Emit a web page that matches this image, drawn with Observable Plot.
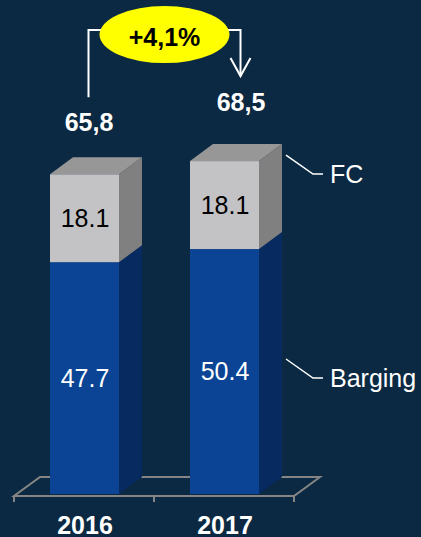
<!DOCTYPE html>
<html><head><meta charset="utf-8">
<script src="https://cdn.jsdelivr.net/npm/d3@7"></script>
<script src="https://cdn.jsdelivr.net/npm/@observablehq/plot@0.6"></script>
<style>html,body{margin:0;padding:0;background:#0b2942;} #chart{width:421px;height:537px;overflow:hidden}</style>
</head><body><div id="chart"></div>
<script>
const years = ["2016", "2017"];
const series = ["Barging", "FC"];
const barging = [47.7, 50.4];
const fc = [18.1, 18.1];
const totalLabels = ["65,8", "68,5"];
const growthLabel = "+4,1%";
const seriesColors = ["#0b4494", "#c3c3c5"];
const sideColors = ["#072a60", "#808080"];
const topColor = "#979797";
const FONT = "Liberation Sans, Arial, sans-serif";

const rows = [];
years.forEach((year, i) => {
  let base = 0;
  [barging[i], fc[i]].forEach((v, j) => {
    rows.push({year, series: series[j], value: v, y1: base, y2: base + v, label: v.toFixed(1)});
    base += v;
  });
});
const totals = years.map((year, i) => ({year, total: barging[i] + fc[i], label: totalLabels[i]}));
const DX = 23, DY = 17;

function floorMark(index, scales) {
  const {x, y} = scales;
  const [r0, r1] = x.range();
  const y0 = y(0) + 2;
  const g = d3.create("svg:g").attr("fill", "none").attr("stroke", "#858585").attr("stroke-width", 2);
  g.append("path").attr("d",
    `M${r0},${y0}L${r1},${y0}L${r1 + DX + 3},${y0 - DY - 2}L${r0 + DX + 3},${y0 - DY - 2}Z`);
  [r0, (r0 + r1) / 2, r1].forEach(t => {
    g.append("line").attr("x1", t).attr("x2", t).attr("y1", y0).attr("y2", y0 + 6);
  });
  return g.node();
}

function sideMark(index, scales) {
  const {x, y} = scales;
  const bw = x.bandwidth();
  const g = d3.create("svg:g");
  rows.forEach(r => {
    const xr = x(r.year) + bw;
    const a = y(r.y2), b = y(r.y1);
    g.append("path")
      .attr("fill", sideColors[series.indexOf(r.series)])
      .attr("d", `M${xr},${a}L${xr + DX},${a - DY}L${xr + DX},${b - DY}L${xr},${b}Z`);
  });
  totals.forEach(t => {
    const x0 = x(t.year), yt = y(t.total);
    g.append("path")
      .attr("fill", topColor)
      .attr("d", `M${x0},${yt}L${x0 + DX},${yt - DY}L${x0 + bw + DX},${yt - DY}L${x0 + bw},${yt}Z`);
  });
  return g.node();
}

function annotationMark(index, scales) {
  const {x, y} = scales;
  const bw = x.bandwidth();
  const lx = x(years[0]) + bw / 2 + 4;
  const rx = x(years[1]) + bw / 2 + 16;
  const yTop = y(d3.max(totals, d => d.total)) - 131;
  const lBottom = y(totals[0].total) - 77;
  const rBottom = y(totals[1].total) - 85;
  const cx = (lx + rx) / 2, cy = yTop + 4.5;
  const g = d3.create("svg:g");
  g.append("path").attr("fill", "none").attr("stroke", "white").attr("stroke-width", 2)
    .attr("d", `M${lx},${lBottom}L${lx},${yTop}L${cx},${yTop}M${cx},${yTop}L${rx},${yTop}L${rx},${rBottom}`);
  g.append("path").attr("fill", "none").attr("stroke", "white").attr("stroke-width", 2)
    .attr("d", `M${rx - 10},${rBottom - 18}L${rx},${rBottom}L${rx + 10},${rBottom - 18}`);
  g.append("ellipse").attr("cx", cx).attr("cy", cy).attr("rx", 65).attr("ry", 28.5).attr("fill", "#ffff00");
  g.append("text").attr("x", cx).attr("y", cy + 11).attr("text-anchor", "middle")
    .attr("font-family", FONT).attr("font-weight", "bold").attr("font-size", 25).attr("fill", "black")
    .text(growthLabel);
  // legend leader lines
  const sx = x(years[1]) + bw + DX;
  const fcY = y(totals[1].total) + 13;
  const bgY = y(0) - 116;
  const leg = [[series[1], fcY], [series[0], bgY]];
  leg.forEach(([name, ly]) => {
    g.append("path").attr("fill", "none").attr("stroke", "white").attr("stroke-width", 1.5)
      .attr("d", `M${sx + 4},${ly - 19}L${sx + 31},${ly}L${sx + 41},${ly}`);
    g.append("text").attr("x", sx + 48).attr("y", ly + 9).attr("text-anchor", "start")
      .attr("font-family", FONT).attr("font-size", 25).attr("fill", "white").text(name);
  });
  return g.node();
}

const chart = Plot.plot({
  width: 421,
  height: 537,
  margin: 0,
  style: {background: "#0b2942", fontFamily: FONT},
  x: {type: "band", domain: years, range: [14, 294], paddingInner: 0.51, paddingOuter: 0.25, axis: null},
  y: {domain: [0, 100], range: [494, 8], axis: null},
  color: {domain: series, range: seriesColors},
  marks: [
    floorMark,
    Plot.barY(rows, {x: "year", y1: "y1", y2: "y2", fill: "series", inset: 0}),
    sideMark,
    Plot.text(rows.filter(d => d.series === "FC"), {x: "year", y: d => (d.y1 + d.y2) / 2, text: "label", fill: "black", fontSize: 25}),
    Plot.text(rows.filter(d => d.series === "Barging"), {x: "year", y: d => (d.y1 + d.y2) / 2, text: "label", fill: "white", fontSize: 25}),
    Plot.text(totals.slice(0, 1), {x: "year", y: "total", text: "label", dx: 4, dy: -52, fill: "white", fontSize: 25, fontWeight: "bold"}),
    Plot.text(totals.slice(1), {x: "year", y: "total", text: "label", dx: 16, dy: -58.5, fill: "white", fontSize: 25, fontWeight: "bold"}),
    Plot.text(years, {x: d => d, y: 0, text: d => d, dy: 31, fill: "white", fontSize: 25, fontWeight: "bold"}),
    annotationMark
  ]
});
document.getElementById("chart").appendChild(chart);
</script>
</body></html>
